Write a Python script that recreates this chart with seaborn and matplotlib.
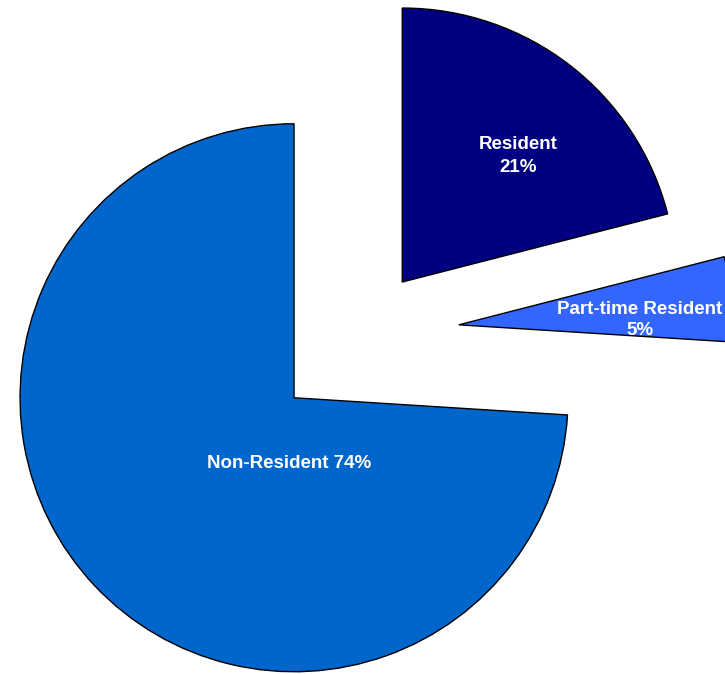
import matplotlib
matplotlib.use("Agg")
import matplotlib.pyplot as plt
import seaborn as sns

categories = ["Resident", "Part-time Resident", "Non-Resident"]
shares = [21, 5, 74]
labels = ["Resident\n21%", "Part-time Resident\n5%", "Non-Resident 74%"]
colors = ["#000080", "#3366FF", "#0066CC"]
explode = [0.24, 0.355, 0.34]
label_pos = [(0.569, 0.650), (1.015, 0.051), (-0.266, -0.471)]
line_gap = [1.5, 1.25, 1.2]

sns.set_style("white")
plt.rcParams['font.family'] = ['Liberation Sans', 'DejaVu Sans']

fig = plt.figure(figsize=(7.25, 6.74), dpi=100)
ax = fig.add_axes([0, 0, 1, 1])
ax.pie(shares, colors=colors, explode=explode, startangle=90, counterclock=False,
       radius=1, wedgeprops={"edgecolor": "black", "linewidth": 1.0})

for txt, (x, y), ls in zip(labels, label_pos, line_gap):
    ax.text(x, y, txt, color="white", fontsize=13.5, fontweight="bold",
            ha="center", va="center", linespacing=ls)

ax.set_xlim(-1.321, 1.325)
ax.set_ylim(-1.241, 1.219)
ax.set_aspect("auto")
ax.axis("off")

plt.savefig("out.png", dpi=100)
